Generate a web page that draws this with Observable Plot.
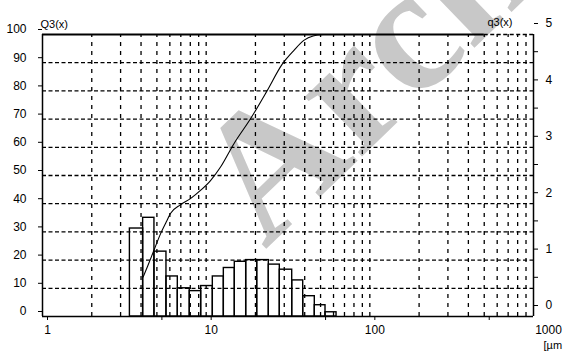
<!DOCTYPE html>
<html>
<head>
<meta charset="utf-8">
<script src="https://cdn.jsdelivr.net/npm/d3@7"></script>
<script src="https://cdn.jsdelivr.net/npm/@observablehq/plot@0.6"></script>
<style>
  html, body { margin: 0; padding: 0; background: white; }
  #chart { width: 563px; height: 351px; overflow: hidden; }
</style>
</head>
<body>
<div id="chart"></div>
<script>
// ---- data ----
// histogram size classes (µm) and density q3(x)
const binLo = [3.42, 4.12, 4.83, 5.72, 6.71, 7.94, 9.32, 10.98, 12.82, 14.96, 17.56, 20.5, 24.14, 28.18, 33.55, 39.16, 46.1, 53.6];
const binHi = [4.12, 4.83, 5.72, 6.71, 7.94, 9.32, 10.98, 12.82, 14.96, 17.56, 20.5, 24.14, 28.18, 33.55, 39.16, 46.1, 53.6, 62.6];
const q3Density = [1.56, 1.75, 1.15, 0.71, 0.50, 0.45, 0.54, 0.71, 0.86, 0.97, 1.0, 1.0, 0.92, 0.83, 0.64, 0.36, 0.2, 0.075];
// cumulative distribution Q3(x) (%)
const cumSize = [4.12, 4.4, 4.79, 5.26, 5.7, 6.05, 6.97, 8.02, 9.23, 10.63, 12.24, 14.75, 18.66, 23.6, 29.1, 34.3, 39.5, 45, 52];
const cumQ3 = [14, 18, 23.4, 29.3, 33.5, 36.5, 39.6, 41.8, 44.7, 48.2, 53, 61.2, 70.1, 80.1, 89.4, 94.3, 97.9, 99.5, 100];
// axes
const leftTicks = [0, 10, 20, 30, 40, 50, 60, 70, 80, 90, 100];
const rightTickLabels = [0, 1, 2, 3, 4, 5];
const xTickLabels = [1, 5, 10, 50, 100, 500];
const xLastLabel = [1000];
const xGrid = [2, 3, 4, 5, 6, 7, 8, 9, 10, 20, 30, 40, 50, 60, 70, 80, 90, 100, 200, 300, 400, 500, 600, 700, 800, 900];
const hGrid = [10, 20, 30, 40, 50, 60, 70, 80, 90];
const xDomain = [1, 1000];
const topSolidEnd = 500;

const bars = binLo.map((lo, i) => ({lo, hi: binHi[i], q: q3Density[i]}));
const curve = cumSize.map((x, i) => ({x, y: cumQ3[i]}));
const qScale = 20; // q3 (0..5) onto Q3 (0..100)

const dashH = "4,2.5";
const dashV = "4,5";

const svg = Plot.plot({
  width: 563,
  height: 351,
  marginLeft: 42,
  marginRight: 30,
  marginTop: 34,
  marginBottom: 35,
  x: {type: "log", domain: xDomain, axis: null},
  y: {domain: [0, 100], axis: null},
  style: {fontFamily: "Liberation Sans, Arial, sans-serif", fontSize: "12px", background: "white", color: "black", overflow: "visible"},
  marks: [
    Plot.rectY(bars, {x1: "lo", x2: "hi", y1: 0, y2: d => d.q * qScale, fill: "white", stroke: "none"}),
    Plot.ruleY(hGrid, {x1: xDomain[0], x2: xDomain[1], stroke: "black", strokeWidth: 1.3, strokeDasharray: dashH}),
    Plot.ruleX(xGrid, {y1: 0, y2: 100, stroke: "black", strokeWidth: 1.3, strokeDasharray: dashV}),
    Plot.ruleY([100], {x1: topSolidEnd, x2: xDomain[1], stroke: "black", strokeWidth: 1.3, strokeDasharray: dashH}),
    Plot.ruleY([100], {x1: xDomain[0], x2: topSolidEnd, stroke: "black", strokeWidth: 2.2}),
    Plot.ruleX(xDomain, {y1: 0, y2: 100, stroke: "black", strokeWidth: 1.5}),
    Plot.ruleY([0], {x1: xDomain[0], x2: xDomain[1], stroke: "black", strokeWidth: 1.5}),
    Plot.rectY(bars, {x1: "lo", x2: "hi", y1: 0, y2: d => d.q * qScale, fill: "none", stroke: "black", strokeWidth: 1.4}),
    Plot.line(curve, {x: "x", y: "y", curve: "monotone-x", stroke: "black", strokeWidth: 1.1}),
    Plot.axisY(leftTicks, {anchor: "left", label: null, tickSize: 4, tickPadding: 12, dy: -5, fontSize: 12}),
    Plot.axisY(leftTicks, {anchor: "right", label: null, tickSize: 4, tickPadding: 8, dy: -11, fontSize: 12,
      tickFormat: d => (rightTickLabels.includes(d / qScale) ? String(d / qScale) : "")}),
    Plot.axisX(xTickLabels, {anchor: "bottom", label: null, tickSize: 4, tickPadding: 5, dx: 5, fontSize: 12, tickFormat: d => String(d)}),
    Plot.axisX(xLastLabel, {anchor: "bottom", label: null, tickSize: 0, tickPadding: 9, dx: 15, fontSize: 12, tickFormat: d => String(d)}),
    Plot.text(["Q3(x)"], {frameAnchor: "top-left", textAnchor: "start", lineAnchor: "bottom", dx: -2, dy: -7, fontSize: 11}),
    Plot.text(["q3(x)"], {frameAnchor: "top-right", textAnchor: "end", lineAnchor: "bottom", dx: -21, dy: -9, fontSize: 11}),
    Plot.text(["[µm"], {frameAnchor: "bottom-right", textAnchor: "start", lineAnchor: "top", dx: 10, dy: 25, fontSize: 11})
  ]
});

// faint watermark behind the chart content
d3.select(svg).insert("text", "g")
  .attr("transform", "translate(265,250) rotate(-44)")
  .attr("text-anchor", "start")
  .attr("font-family", "Liberation Serif, serif")
  .attr("font-weight", "bold")
  .attr("font-size", 180)
  .attr("fill", "#c8c8c8")
  .text("Arch");

document.getElementById("chart").appendChild(svg);
</script>
</body>
</html>
